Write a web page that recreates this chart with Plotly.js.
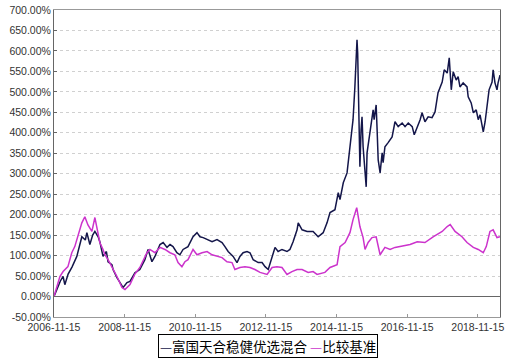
<!DOCTYPE html>
<html>
<head>
<meta charset="utf-8">
<script src="https://cdn.plot.ly/plotly-3.0.1.min.js"></script>
<style>html,body{margin:0;padding:0;background:#fff;}#chart{width:514px;height:362px;}</style>
</head>
<body>
<div id="chart"></div>
<script>
var fundName = "富国天合稳健优选混合";
var benchName = "比较基准";

var fundDates = ["2006-11-15","2006-12-20","2007-01-20","2007-02-17","2007-03-07","2007-04-10","2007-05-20","2007-07-09","2007-08-30","2007-10-05","2007-10-21","2007-11-21","2007-12-20","2008-01-12","2008-02-15","2008-03-03","2008-04-05","2008-05-10","2008-05-27","2008-07-06","2008-07-18","2008-08-27","2008-10-10","2008-10-30","2008-12-09","2009-01-09","2009-03-01","2009-04-21","2009-06-12","2009-07-15","2009-08-24","2009-09-24","2009-11-15","2009-12-18","2010-01-27","2010-02-27","2010-03-30","2010-05-09","2010-06-09","2010-07-12","2010-09-01","2010-10-23","2010-12-03","2011-01-03","2011-02-05","2011-03-17","2011-05-08","2011-06-28","2011-08-19","2011-09-18","2011-10-21","2011-12-12","2012-01-21","2012-02-20","2012-03-24","2012-05-03","2012-06-03","2012-07-06","2012-08-27","2012-10-06","2012-11-06","2012-12-09","2013-01-18","2013-02-17","2013-03-21","2013-04-30","2013-06-21","2013-07-21","2013-08-23","2013-10-03","2013-10-15","2013-11-24","2014-01-15","2014-03-18","2014-05-09","2014-06-30","2014-08-09","2014-09-09","2014-10-30","2014-12-03","2014-12-21","2015-01-24","2015-03-04","2015-04-03","2015-04-24","2015-05-05","2015-05-24","2015-06-15","2015-06-22","2015-06-29","2015-07-06","2015-07-15","2015-07-27","2015-08-06","2015-08-17","2015-09-06","2015-09-18","2015-09-27","2015-10-28","2015-11-29","2015-12-09","2015-12-30","2016-01-09","2016-01-20","2016-02-09","2016-03-01","2016-03-11","2016-03-30","2016-05-02","2016-06-12","2016-07-12","2016-08-14","2016-09-24","2016-10-24","2016-11-26","2017-01-06","2017-01-27","2017-02-27","2017-03-29","2017-04-18","2017-05-18","2017-06-20","2017-07-30","2017-08-30","2017-09-30","2017-11-12","2017-12-03","2018-01-03","2018-01-24","2018-02-14","2018-03-06","2018-04-06","2018-04-26","2018-05-15","2018-06-17","2018-07-27","2018-08-08","2018-09-08","2018-09-30","2018-10-30","2018-11-20","2018-12-09","2019-01-11","2019-01-30","2019-02-21","2019-03-12","2019-04-12","2019-04-23","2019-05-12","2019-06-02","2019-06-13","2019-07-03"];
var fundValues = [0,22,38,49,29,55,72,98,146,138,156,127,150,159,146,134,98,110,85,78,66,46,30,22,34,37,58,66,90,115,85,98,127,132,120,127,122,107,102,115,122,146,156,146,144,139,134,139,132,122,110,98,83,98,107,110,107,90,83,83,73,66,95,120,110,115,110,115,134,163,180,163,159,159,146,156,180,205,212,254,237,278,302,366,415,432,512,627,595,512,415,317,407,439,366,310,268,351,400,456,432,468,407,334,302,351,327,366,376,390,427,415,424,415,424,415,395,412,432,449,427,439,437,451,498,524,554,546,583,505,549,529,537,512,522,512,488,473,449,456,432,444,402,427,463,505,524,554,522,505,522,541];

var benchDates = ["2006-11-15","2006-12-20","2007-01-15","2007-02-17","2007-04-08","2007-05-18","2007-06-18","2007-08-30","2007-09-30","2007-11-01","2007-12-12","2008-01-12","2008-02-15","2008-03-03","2008-04-05","2008-04-24","2008-05-27","2008-07-06","2008-08-27","2008-10-18","2008-11-18","2009-01-09","2009-03-01","2009-04-21","2009-07-03","2009-08-03","2009-09-24","2009-11-15","2010-01-06","2010-02-27","2010-04-18","2010-05-21","2010-06-30","2010-07-31","2010-09-01","2010-10-23","2010-12-03","2011-01-24","2011-03-17","2011-05-08","2011-06-28","2011-08-19","2011-10-09","2011-11-30","2011-12-30","2012-02-20","2012-04-12","2012-06-03","2012-07-24","2012-09-15","2012-11-27","2013-01-18","2013-03-09","2013-04-30","2013-06-21","2013-08-11","2013-10-03","2013-11-24","2014-01-26","2014-03-18","2014-04-28","2014-07-18","2014-09-09","2014-11-21","2014-12-21","2015-02-12","2015-04-03","2015-05-05","2015-06-12","2015-07-15","2015-08-17","2015-09-06","2015-10-08","2015-11-17","2015-12-30","2016-02-09","2016-03-30","2016-05-22","2016-07-12","2016-09-02","2016-12-15","2017-02-27","2017-05-18","2017-08-10","2017-11-12","2018-01-03","2018-02-03","2018-03-25","2018-06-05","2018-07-27","2018-09-30","2018-11-20","2019-01-11","2019-02-11","2019-03-21","2019-04-23","2019-06-02","2019-07-03"];
var benchValues = [0,30,49,61,73,107,122,180,195,175,159,193,151,132,115,102,90,73,49,22,17,29,55,71,107,115,107,120,115,107,102,83,73,85,90,115,102,107,110,102,98,95,85,83,66,71,73,71,66,59,54,71,73,71,54,61,66,66,59,61,54,59,71,78,122,132,156,188,217,171,144,115,132,144,146,102,120,115,120,122,127,134,132,146,159,171,176,159,146,132,120,115,107,122,159,163,144,146];

var yTicks = [-50,0,50,100,150,200,250,300,350,400,450,500,550,600,650,700];
var yTickText = yTicks.map(function(v){return v.toFixed(2)+"%";});
var xTicks = ["2006-11-15","2008-11-15","2010-11-15","2012-11-15","2014-11-15","2016-11-15","2018-11-15"];

var fundColor = "#14164a";
var benchColor = "#cc33cc";

var traces = [
  {x: fundDates, y: fundValues, name: fundName, type: "scatter", mode: "lines",
   line: {color: fundColor, width: 1.5}},
  {x: benchDates, y: benchValues, name: benchName, type: "scatter", mode: "lines",
   line: {color: benchColor, width: 1.5}}
];

var tickFont = {family: "Liberation Sans, DejaVu Sans, sans-serif", size: 10.5, color: "#333"};

var legendText = '<span style="color:' + fundColor + '">—</span>' + fundName +
                 ' <span style="color:' + benchColor + '">—</span>' + benchName;

var layout = {
  width: 514, height: 362,
  margin: {l: 54, r: 14, t: 10, b: 45},
  paper_bgcolor: "#ffffff", plot_bgcolor: "#ffffff",
  showlegend: false,
  annotations: [{
    text: legendText, xref: "paper", yref: "paper", x: 0.48, y: -0.096,
    xanchor: "center", yanchor: "middle", showarrow: false,
    bordercolor: "#000", borderwidth: 1, borderpad: 1, bgcolor: "#fff",
    font: {family: "Noto Sans CJK SC, sans-serif", size: 13.5, color: "#000"}
  }],
  xaxis: {type: "date", range: ["2006-11-15", "2019-07-03"],
          tickvals: xTicks, ticktext: xTicks, tickfont: tickFont,
          showgrid: false, zeroline: false, showline: true, linecolor: "#999", linewidth: 1,
          mirror: true, ticks: "inside", ticklen: 3, tickcolor: "#999"},
  yaxis: {range: [-50, 700], tickvals: yTicks, ticktext: yTickText, tickfont: tickFont,
          showgrid: true, gridcolor: "#d0d0d0", griddash: "dot", gridwidth: 1,
          zeroline: true, zerolinecolor: "#666", zerolinewidth: 1,
          showline: true, linecolor: "#666", linewidth: 1, mirror: true,
          ticks: "inside", ticklen: 3, tickcolor: "#666"}
};

Plotly.newPlot("chart", traces, layout, {displayModeBar: false, staticPlot: true});
</script>
</body>
</html>
